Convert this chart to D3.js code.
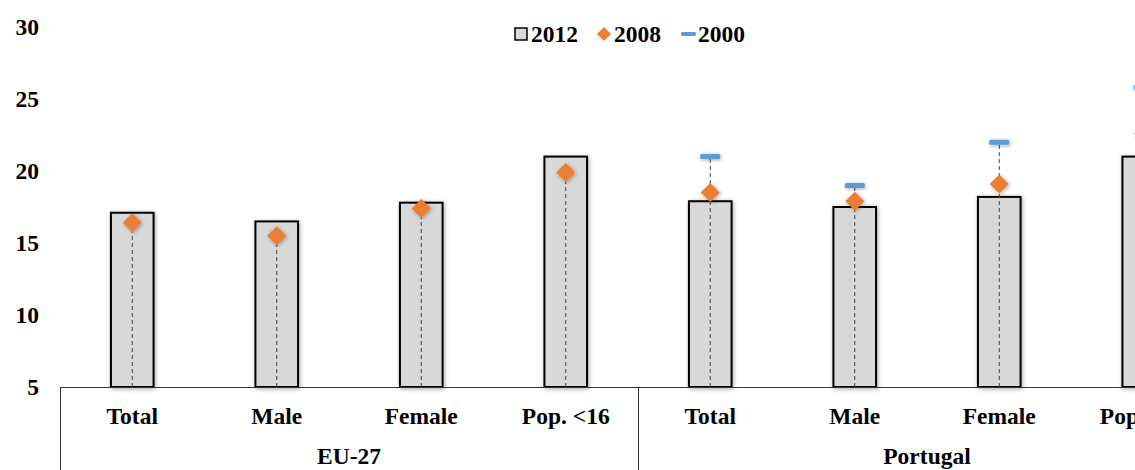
<!DOCTYPE html>
<html>
<head>
<meta charset="utf-8">
<script src="https://cdn.jsdelivr.net/npm/d3@7"></script>
<style>
  body { margin: 0; background: #fff; }
  text { font-family: "Liberation Serif", "Times New Roman", serif; font-weight: bold; fill: #000; }
</style>
</head>
<body>
<div id="viz"></div>
<script>
// data
var groups = ['EU-27', 'Portugal'];
var categories = ['Total', 'Male', 'Female', 'Pop. <16', 'Total', 'Male', 'Female', 'Pop. <16'];
var values2012 = [17.1, 16.5, 17.8, 21.0, 17.9, 17.5, 18.2, 21.0];
var values2008 = [16.4, 15.5, 17.4, 19.9, 18.5, 17.9, 19.1, 22.6];
var values2000 = [null, null, null, null, 21.0, 19.0, 22.0, 25.8];
var yTicks = [5, 10, 15, 20, 25, 30];

var width = 1135;
var height = 470;
var margin = {top: 27, left: 60, bottom: 83};
var fontSize = '23.5px';

var svg = d3.select('#viz').append('svg')
  .attr('width', width)
  .attr('height', height);

var defs = svg.append('defs');
var f = defs.append('filter').attr('id', 'shadow')
  .attr('x', '-50%').attr('y', '-50%').attr('width', '200%').attr('height', '200%');
f.append('feDropShadow')
  .attr('dx', 1).attr('dy', 1).attr('stdDeviation', 2)
  .attr('flood-color', '#000').attr('flood-opacity', 0.35);

var yBase = height - margin.bottom; // 387

var y = d3.scaleLinear().domain([5, 30]).range([yBase, margin.top]);

// the plot runs past the right edge of the window
var x = d3.scaleBand()
  .domain(d3.range(categories.length))
  .range([margin.left, margin.left + 144.5 * categories.length])
  .paddingInner(0)
  .paddingOuter(0);

var barW = x.bandwidth() * 0.295;

// y tick labels
svg.append('g').selectAll('text')
  .data(yTicks)
  .enter().append('text')
  .attr('x', 39)
  .attr('y', function (d) { return y(d); })
  .attr('dy', '0.35em')
  .attr('text-anchor', 'end')
  .style('font-size', fontSize)
  .text(function (d) { return d; });

// bars
svg.append('g').selectAll('rect')
  .data(values2012)
  .enter().append('rect')
  .attr('x', function (d, i) { return x(i) + x.bandwidth() / 2 - barW / 2; })
  .attr('y', function (d) { return y(d); })
  .attr('width', barW)
  .attr('height', function (d) { return yBase - y(d); })
  .attr('fill', '#d9d9d9')
  .attr('stroke', '#000')
  .attr('stroke-width', 2)
  .attr('filter', 'url(#shadow)');

// drop lines from highest marker to base
svg.append('g').selectAll('line')
  .data(categories)
  .enter().append('line')
  .attr('x1', function (d, i) { return x(i) + x.bandwidth() / 2; })
  .attr('x2', function (d, i) { return x(i) + x.bandwidth() / 2; })
  .attr('y1', yBase)
  .attr('y2', function (d, i) {
    var top = Math.max(values2008[i], values2000[i] || 0);
    return y(top);
  })
  .attr('stroke', '#444')
  .attr('stroke-width', 1)
  .attr('stroke-dasharray', '4,3');

// axis line
svg.append('line')
  .attr('x1', margin.left).attr('x2', width)
  .attr('y1', yBase + 0.5).attr('y2', yBase + 0.5)
  .attr('stroke', '#333').attr('stroke-width', 1);

// group separators
var sep = [0, 4, 8];
svg.append('g').selectAll('line')
  .data(sep)
  .enter().append('line')
  .attr('x1', function (d) { return d < 8 ? Math.round(x(d)) + 0.5 : x.range()[1]; })
  .attr('x2', function (d) { return d < 8 ? Math.round(x(d)) + 0.5 : x.range()[1]; })
  .attr('y1', yBase).attr('y2', height)
  .attr('stroke', '#333').attr('stroke-width', 1);

// 2008 diamonds
var dia = 9.5;
svg.append('g').selectAll('path')
  .data(values2008)
  .enter().append('path')
  .attr('transform', function (d, i) { return 'translate(' + (x(i) + x.bandwidth() / 2) + ',' + y(d) + ')'; })
  .attr('d', 'M0,' + (-dia) + 'L' + dia + ',0L0,' + dia + 'L' + (-dia) + ',0Z')
  .attr('fill', '#ed7d31')
  .attr('filter', 'url(#shadow)');

// 2000 dashes
svg.append('g').selectAll('rect')
  .data(values2000.map(function (v, i) { return {v: v, i: i}; }).filter(function (d) { return d.v != null; }))
  .enter().append('rect')
  .attr('x', function (d) { return x(d.i) + x.bandwidth() / 2 - 10; })
  .attr('y', function (d) { return y(d.v) - 2.5; })
  .attr('width', 20)
  .attr('height', 5)
  .attr('rx', 1.5)
  .attr('fill', '#5b9bd5')
  .attr('filter', 'url(#shadow)');

// category labels
svg.append('g').selectAll('text')
  .data(categories)
  .enter().append('text')
  .attr('x', function (d, i) { return x(i) + x.bandwidth() / 2; })
  .attr('y', 424)
  .attr('text-anchor', 'middle')
  .style('font-size', fontSize)
  .text(function (d) { return d; });

// group labels
svg.append('g').selectAll('text')
  .data(groups)
  .enter().append('text')
  .attr('x', function (d, i) { return x(i * 4) + x.bandwidth() * 2; })
  .attr('y', 464)
  .attr('text-anchor', 'middle')
  .style('font-size', fontSize)
  .text(function (d) { return d; });

// legend
var legend = svg.append('g');
legend.append('rect')
  .attr('x', 515).attr('y', 28).attr('width', 12).attr('height', 12)
  .attr('fill', '#d9d9d9').attr('stroke', '#000').attr('stroke-width', 1.5);
legend.append('text').attr('x', 531).attr('y', 42).style('font-size', fontSize).text('2012');
legend.append('path')
  .attr('transform', 'translate(604,34)')
  .attr('d', 'M0,-7L7,0L0,7L-7,0Z')
  .attr('fill', '#ed7d31');
legend.append('text').attr('x', 614).attr('y', 42).style('font-size', fontSize).text('2008');
legend.append('rect')
  .attr('x', 681).attr('y', 32).attr('width', 15).attr('height', 4).attr('rx', 1.5)
  .attr('fill', '#5b9bd5');
legend.append('text').attr('x', 698).attr('y', 42).style('font-size', fontSize).text('2000');
</script>
</body>
</html>
